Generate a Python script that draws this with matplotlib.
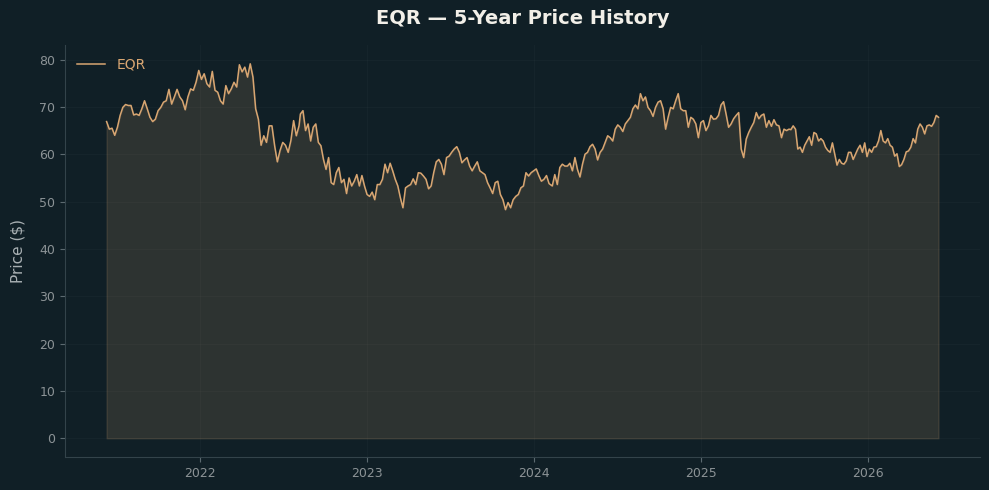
import matplotlib
matplotlib.use("Agg")
import matplotlib.pyplot as plt
import numpy as np
import pandas as pd

ticker = "EQR"
title = "EQR \u2014 5-Year Price History"

# Price readings, in four consecutive date segments (evenly spaced inside each)
seg_bounds = [
    ("2021-06-11", "2022-08-06"),
    ("2022-08-09", "2024-02-04"),
    ("2024-02-11", "2025-07-13"),
    ("2025-07-17", "2026-06-05"),
]

prices_1 = [66.9, 65.3, 65.5, 64.0, 65.7, 68.2, 69.9, 70.5, 70.3, 70.3,
            68.3, 68.5, 68.2, 69.6, 71.3, 69.6, 67.8, 66.9, 67.4, 69.2,
            69.9, 71.0, 71.3, 73.7, 70.6, 72.1, 73.7, 72.1, 71.3, 69.4,
            72.1, 73.8, 73.5, 75.2, 77.7, 75.8, 77.0, 74.9, 74.2, 77.5,
            73.5, 73.1, 71.3, 70.6, 74.5, 72.8, 73.8, 75.2, 74.2, 78.9,
            77.4, 78.4, 76.3, 79.1, 76.3, 69.6, 67.4, 61.9, 63.9, 62.5,
            66.0, 66.0, 61.8, 58.4, 60.8, 62.5, 61.9, 60.4, 62.9, 67.1,
            63.9, 66.0]

prices_2 = [68.5, 69.2, 65.0, 66.4, 62.8, 65.7, 66.4, 62.5, 61.8, 58.9,
            56.8, 59.3, 54.0, 53.6, 56.1, 57.2, 54.0, 54.7, 51.7, 55.0,
            53.3, 54.3, 55.7, 53.3, 55.5, 53.3, 51.5, 51.1, 52.0, 50.4,
            53.6, 53.6, 54.7, 57.9, 56.1, 58.1, 56.5, 54.7, 53.3, 50.8,
            48.7, 52.9, 53.3, 53.6, 54.8, 53.6, 56.1, 56.0, 55.4, 54.7,
            52.7, 53.3, 56.1, 58.4, 58.9, 57.9, 55.7, 59.3, 59.6, 60.4,
            61.1, 61.6, 60.4, 58.2, 58.8, 59.3, 57.5, 56.5, 57.5, 58.4,
            56.5, 56.1, 55.7, 54.0, 52.9, 51.7, 54.0, 54.3, 51.5, 50.4,
            48.3, 49.8, 48.7, 50.4, 51.1, 51.5, 52.9, 53.3, 56.1, 55.4,
            56.1, 56.5, 56.9, 55.5, 54.3, 54.7, 55.5, 53.8]

prices_3 = [53.3, 55.7, 53.6, 57.2, 57.9, 57.5, 57.5, 58.1, 56.5, 59.3,
            56.8, 55.2, 57.9, 60.0, 60.4, 61.6, 62.1, 61.1, 58.8, 60.4,
            61.1, 62.5, 63.9, 63.5, 62.8, 65.3, 66.2, 65.7, 64.8, 66.4,
            67.1, 67.8, 69.6, 70.4, 69.6, 72.8, 71.3, 72.1, 69.9, 69.2,
            68.0, 69.9, 71.0, 71.3, 69.6, 65.3, 67.8, 69.9, 69.6, 71.3,
            72.8, 69.6, 69.2, 69.2, 65.7, 67.8, 67.4, 66.4, 63.5, 66.7,
            67.1, 65.0, 66.0, 68.2, 67.4, 67.5, 68.2, 70.4, 71.1, 68.5,
            65.7, 66.4, 67.5, 68.2, 68.8, 61.1, 59.3, 63.2, 64.6, 65.7,
            66.7, 68.8, 67.5, 68.2, 68.5, 65.7, 67.1, 65.9, 67.3, 66.2,
            66.0, 63.5, 65.3, 65.0, 65.3]

prices_4 = [65.2, 66.0, 65.3, 61.1, 61.5, 60.4, 61.9, 62.8, 63.7, 61.9,
            64.6, 64.3, 62.8, 63.3, 62.8, 61.5, 60.8, 60.4, 62.4, 60.0,
            57.7, 58.9, 58.1, 57.9, 58.6, 60.4, 60.4, 58.9, 60.0, 61.1,
            61.9, 60.4, 62.4, 59.5, 61.1, 60.4, 61.5, 61.6, 62.8, 65.0,
            62.8, 62.4, 63.3, 61.9, 61.5, 59.6, 60.1, 57.4, 57.8, 58.9,
            60.5, 60.7, 61.5, 63.3, 62.4, 65.3, 66.4, 65.7, 64.3, 66.0,
            66.2, 65.9, 66.7, 68.2, 67.8]

segments = [prices_1, prices_2, prices_3, prices_4]
dates = []
prices = []
for (s, e), vals in zip(seg_bounds, segments):
    dates.extend(pd.date_range(s, e, periods=len(vals)))
    prices.extend(vals)
dates = pd.DatetimeIndex(dates)
prices = np.array(prices)

bg = "#101f26"
line_color = "#d8a672"

fig = plt.figure(figsize=(9.89, 4.9), dpi=100, facecolor=bg)
ax = fig.add_axes([0.0657, 0.0673, 0.9253, 0.8407])
ax.set_facecolor(bg)

ax.fill_between(dates, prices, 0, color=line_color, alpha=0.15, linewidth=1.0)
ax.plot(dates, prices, color=line_color, linewidth=1.1, label=ticker)

ax.grid(True, color="#ffffff", alpha=0.025, linewidth=0.8)
ax.set_axisbelow(True)
for side in ["top", "right"]:
    ax.spines[side].set_visible(False)
for side in ["left", "bottom"]:
    ax.spines[side].set_color("#33434a")

ax.tick_params(colors="#5c6a70", labelcolor="#8c9396", labelsize=9)
ax.set_ylabel("Price ($)", color="#a9b0b3", fontsize=11, labelpad=10)
ax.set_title(title, color="#f2efe8", fontsize=14, fontweight="bold", pad=15)

leg = ax.legend(loc="upper left", frameon=False, fontsize=10)
for t in leg.get_texts():
    t.set_color(line_color)

fig.savefig("out.png", dpi=100, facecolor=bg)
